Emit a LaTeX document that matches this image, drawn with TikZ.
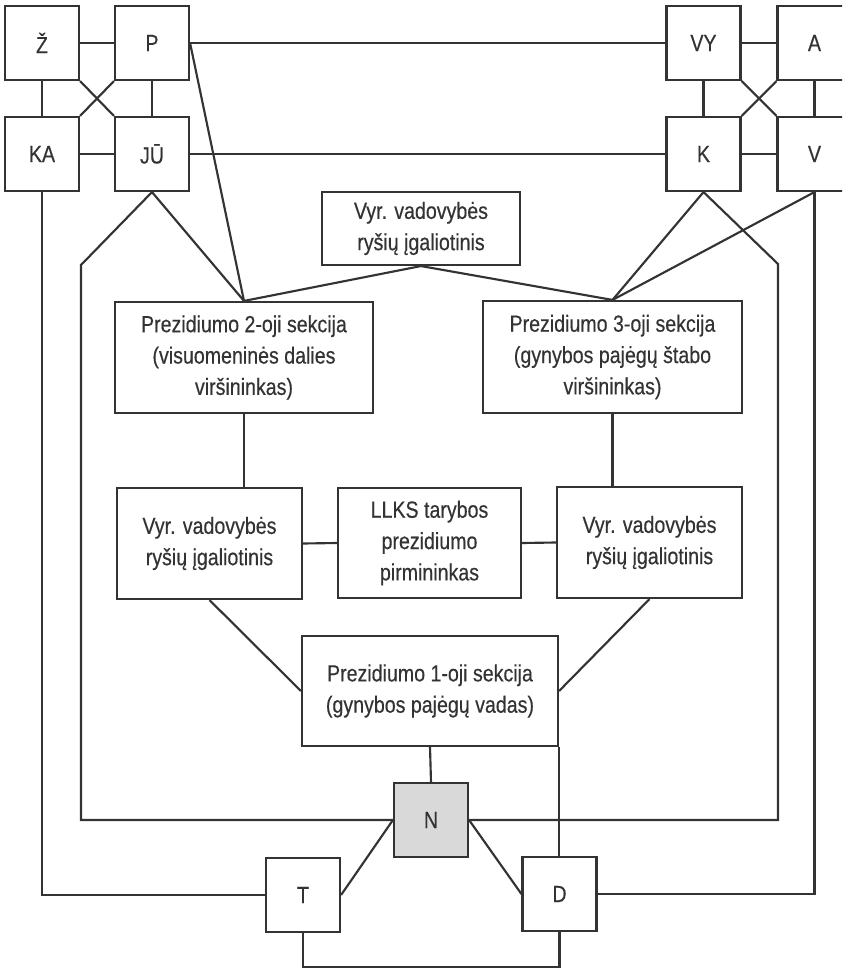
\documentclass[tikz,border=0pt]{standalone}
\usepackage{fontspec}
\setmainfont{Liberation Sans}[FakeStretch=0.84, FakeBold=0.4]
\definecolor{linecol}{HTML}{333333}
\definecolor{nfill}{HTML}{D9D9D9}
\begin{document}
\begin{tikzpicture}[x=0.75pt,y=-0.75pt,
  ink/.style={draw=linecol, line width=1.6pt},
  box/.style={ink, rectangle, inner sep=0pt, align=center, text=linecol,
    font=\fontsize{17.5}{23.5}\selectfont},
  wh/.style 2 args={minimum width=#1*0.75pt, minimum height=#2*0.75pt},
  sq/.style={box, wh={74}{74}},
  link/.style={ink, line join=miter}]
\useasboundingbox (0,0) rectangle (842,969);
\clip (0,0) rectangle (842,969);

% upper left group
\node[sq] (Z)  at (42,43)   {Ž};
\node[sq] (P)  at (152,43)  {P};
\node[sq] (KA) at (42,154)  {KA};
\node[sq] (JU) at (152,154) {JŪ};
% upper right group
\node[sq] (VY) at (703.5,43)  {VY};
\node[sq] (A)  at (814.5,43)  {A};
\node[sq] (K)  at (703.5,154) {K};
\node[sq] (V)  at (814.5,154) {V};

% central structure
\node[box, wh={198}{73}]  (VT) at (421,228.5) {Vyr. vadovybės\\ryšių įgaliotinis};
\node[box, wh={258}{111}] (S2) at (244,357.5) {Prezidiumo 2-oji sekcija\\(visuomeninės dalies\\viršininkas)};
\node[box, wh={259}{112}] (S3) at (612.5,357) {Prezidiumo 3-oji sekcija\\(gynybos pajėgų štabo\\viršininkas)};
\node[box, wh={185}{111}] (VL) at (209.5,543.5) {Vyr. vadovybės\\ryšių įgaliotinis};
\node[box, wh={183}{110}] (LL) at (429.5,543) {LLKS tarybos\\prezidiumo\\pirmininkas};
\node[box, wh={185}{111}] (VR) at (649.5,542.5) {Vyr. vadovybės\\ryšių įgaliotinis};
\node[box, wh={256}{110}] (S1) at (430,691) {Prezidiumo 1-oji sekcija\\(gynybos pajėgų vadas)};

% lower group
\node[sq, fill=nfill] (N) at (431,820) {N};
\node[sq] (T) at (303,895)   {T};
\node[sq] (D) at (559.5,894) {D};

% bend points of the outer routes
\coordinate (jl) at (81,265);
\coordinate (kr) at (778,264);
\coordinate (bl) at (303,967);

% links inside the upper left group
\draw[link] (Z.east) -- (P.west);
\draw[link] (Z.south) -- (KA.north);
\draw[link] (P.south) -- (JU.north);
\draw[link] (KA.east) -- (JU.west);
\draw[link] (Z.south east) -- (JU.north west);
\draw[link] (P.south west) -- (KA.north east);
% links inside the upper right group
\draw[link] (VY.east) -- (A.west);
\draw[link] (VY.south) -- (K.north);
\draw[link] (A.south) -- (V.north);
\draw[link] (K.east) -- (V.west);
\draw[link] (VY.south east) -- (V.north west);
\draw[link] (A.south west) -- (K.north east);
% between the groups
\draw[link] (P.east) -- (VY.west);
\draw[link] (JU.east) -- (K.west);

% to the sections
\draw[link] (P.east) -- (S2.north);
\draw[link] (JU.south) -- (S2.north);
\draw[link] (VT.south) -- (S2.north);
\draw[link] (VT.south) -- (S3.north);
\draw[link] (K.south) -- (S3.north);
\draw[link] (V.south) -- (S3.north);
\draw[link] (S2.south) -- (S2.south |- VL.north);
\draw[link] (S3.south) -- (S3.south |- VR.north);
\draw[link] (VL.east) -- (LL.west);
\draw[link] (LL.east) -- (VR.west);
\draw[link] (VL.south) -- (S1.west);
\draw[link] (VR.south) -- (S1.east);
\draw[link] (S1.south) -- (N.north);
\draw[link] (S1.south east) -- (S1.south east |- D.north);

% outer routes
\draw[link] (JU.south) -- (jl) -- (jl |- N.west) -- (N.west);
\draw[link] (K.south) -- (kr) -- (kr |- N.east) -- (N.east);
\draw[link] (KA.south) |- (T.west);
\draw[link] (V.south) |- (D.east);

% lower links
\draw[link] (N.west) -- (T.east);
\draw[link] (N.east) -- (D.west);
\draw[link] (T.south) -- (bl) -| (D.south);
\end{tikzpicture}
\end{document}
